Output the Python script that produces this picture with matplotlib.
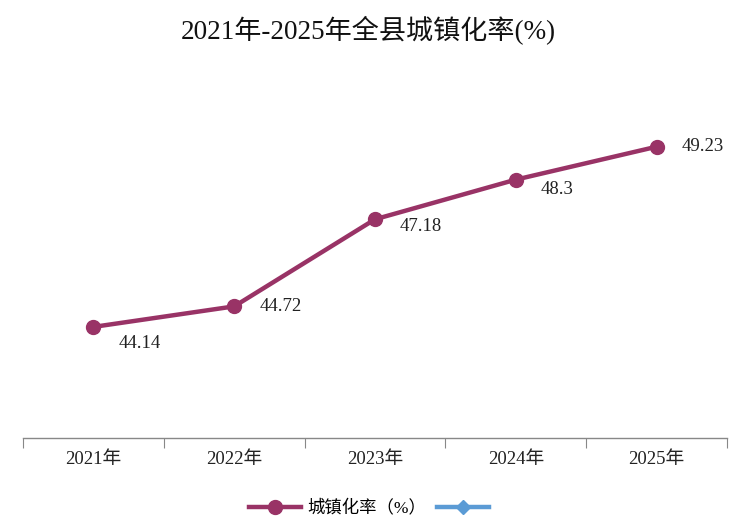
import matplotlib
matplotlib.use("Agg")
import matplotlib.pyplot as plt
from matplotlib.lines import Line2D

plt.rcParams['font.family'] = ['Liberation Serif', 'Noto Sans CJK SC', 'DejaVu Sans']

years = ['2021年', '2022年', '2023年', '2024年', '2025年']
rates = [44.14, 44.72, 47.18, 48.3, 49.23]
value_labels = ['44.14', '44.72', '47.18', '48.3', '49.23']
title = '2021年-2025年全县城镇化率(%)'
series_name = '城镇化率（%）'

line_color = '#993366'
blue = '#5B9BD5'

fig = plt.figure(figsize=(7.37, 5.31), dpi=100)
ax = fig.add_axes([0.0312, 0.175, 0.9552, 0.6667])

x = list(range(len(years)))
ax.plot(x, rates, color=line_color, lw=3.2, marker='o', ms=10, solid_capstyle='round', zorder=3)

offsets = [(18, -12), (18, 0), (18, -5), (18, -7), (18, 0)]
for xi, yi, lab, off in zip(x, rates, value_labels, offsets):
    ax.annotate(lab, (xi, yi), xytext=off, textcoords='offset points', ha='left', va='center',
                fontsize=13.5, color='#222222')

ax.set_xlim(-0.5, len(years) - 0.5)
ax.set_ylim(41, 51)
ax.set_yticks([])
for s in ['top', 'right', 'left']:
    ax.spines[s].set_visible(False)
ax.spines['bottom'].set_color('#888888')
ax.spines['bottom'].set_linewidth(1)

ax.set_xticks([i - 0.5 for i in range(len(years) + 1)])
ax.set_xticklabels([])
ax.tick_params(axis='x', which='major', length=7, color='#888888', direction='out')
ax.set_xticks(x, minor=True)
ax.set_xticklabels(years, minor=True, fontsize=13.5, color='#222222')
ax.tick_params(axis='x', which='minor', length=0, pad=9)

fig.text(0.5, 0.943, title, ha='center', va='center', fontsize=19.5, color='#111111', fontweight='medium')

handles = [
    Line2D([], [], color=line_color, lw=3.2, marker='o', ms=10),
    Line2D([], [], color=blue, lw=3.2, marker='D', ms=7),
]
fig.legend(handles, [series_name, ''], loc='center', bbox_to_anchor=(0.505, 0.043), ncol=2,
           frameon=False, fontsize=12.5, handlelength=3.0, columnspacing=0.6, handletextpad=0.4)

fig.savefig('out.png', dpi=100)
